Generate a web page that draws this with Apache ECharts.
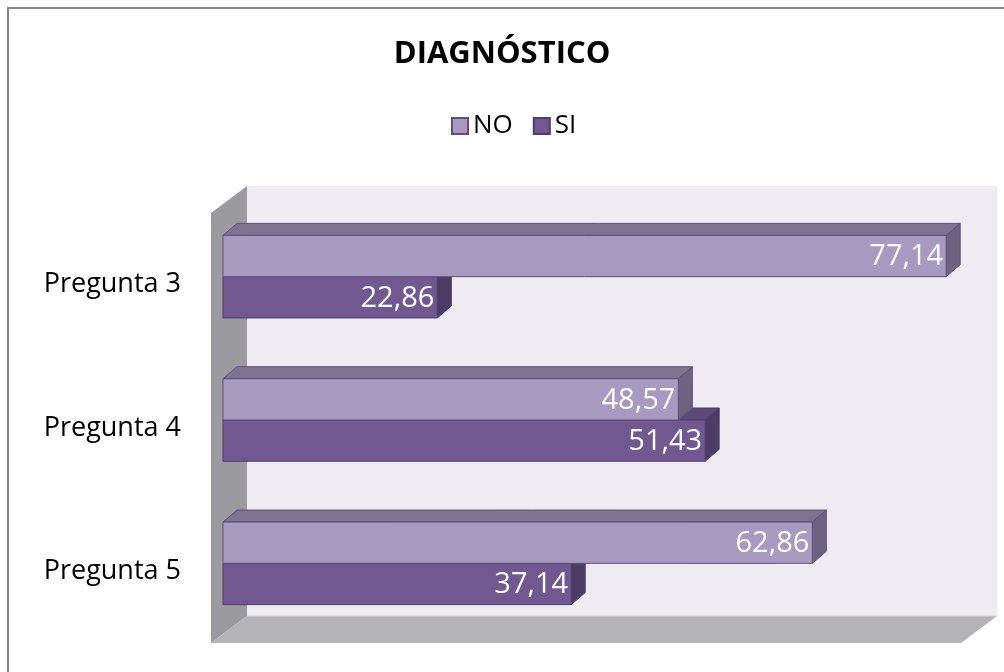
<!DOCTYPE html>
<html>
<head>
<meta charset="utf-8">
<script src="https://cdn.jsdelivr.net/npm/echarts@6/dist/echarts.min.js"></script>
<style>
  html, body { margin: 0; padding: 0; background: #fff; }
  #chart { width: 1004px; height: 672px; }
</style>
</head>
<body>
<div id="chart"></div>
<script>
// data
var categories = ['Pregunta 3', 'Pregunta 4', 'Pregunta 5'];
var noValues = [77.14, 48.57, 62.86];
var siValues = [22.86, 51.43, 37.14];

var FONT = '"Open Sans", "DejaVu Sans", sans-serif';
var WALL = [36, -27];   // depth of the whole box
var SHIFT = [12, -8];   // where the bars sit in depth
var DEPTH = [14, -12];  // depth of one bar

var colNo = { front: '#a899c0', top: '#7f7391', side: '#6d6381', line: '#5f4f7a' };
var colSi = { front: '#725891', top: '#5c497b', side: '#4c3c66', line: '#4f3d6c' };

function fmt(v) { return v.toFixed(2).replace('.', ','); }

function box(x0, x1, y0, y1, c) {
  var dx = DEPTH[0], dy = DEPTH[1];
  return [
    { type: 'polygon', shape: { points: [[x0, y0], [x0 + dx, y0 + dy], [x1 + dx, y0 + dy], [x1, y0]] },
      style: { fill: c.top, stroke: c.line, lineWidth: 1 } },
    { type: 'polygon', shape: { points: [[x1, y0], [x1 + dx, y0 + dy], [x1 + dx, y1 + dy], [x1, y1]] },
      style: { fill: c.side, stroke: c.line, lineWidth: 1 } },
    { type: 'rect', shape: { x: x0, y: y0, width: x1 - x0, height: y1 - y0 },
      style: { fill: c.front, stroke: c.line, lineWidth: 1 } }
  ];
}

function barRenderer(c, upper) {
  return function (params, api) {
    var cat = api.value(1);
    var val = api.value(0);
    var p0 = api.coord([0, cat]);
    var p1 = api.coord([val, cat]);
    var band = api.size([0, 1])[1];
    var h = band * 0.288;
    var cy = p0[1] + SHIFT[1];
    var x0 = p0[0] + SHIFT[0], x1 = p1[0] + SHIFT[0];
    var y0 = upper ? cy - h : cy;
    var y1 = upper ? cy : cy + h;
    var kids = box(x0, x1, y0, y1, c);
    kids.push({ type: 'text', style: {
      x: x1 - 3, y: (y0 + y1) / 2 + 1, text: fmt(val), fill: '#fff',
      font: '29px ' + FONT, align: 'right', verticalAlign: 'middle' } });
    return { type: 'group', children: kids };
  };
}

function wallRenderer(params, api) {
  var cs = params.coordSys;
  var l = cs.x, r = cs.x + cs.width, t = cs.y, b = cs.y + cs.height;
  var dx = WALL[0], dy = WALL[1];
  return { type: 'group', children: [
    { type: 'rect', shape: { x: l + dx, y: t + dy, width: r - l, height: b - t },
      style: { fill: '#eeebf3' } },
    { type: 'polygon', shape: { points: [[l, t], [l + dx, t + dy], [l + dx, b + dy], [l, b]] },
      style: { fill: '#9b9a9f' } },
    { type: 'polygon', shape: { points: [[l, b], [l + dx, b + dy], [r + dx, b + dy], [r, b]] },
      style: { fill: '#b4b3b8' } },
    { type: 'line', shape: { x1: l + dx, y1: b + dy, x2: r + dx, y2: b + dy },
      style: { stroke: '#d8d6dc', lineWidth: 1 } }
  ] };
}

var chart = echarts.init(document.getElementById('chart'), null, { renderer: 'canvas' });
chart.setOption({
  backgroundColor: '#fff',
  animation: false,
  graphic: [{
    type: 'rect', shape: { x: 8, y: 8, width: 1100, height: 800 },
    style: { fill: 'none', stroke: '#878787', lineWidth: 2 }, silent: true
  }],
  title: {
    text: 'DIAGNÓSTICO', left: 'center', top: 34,
    textStyle: { fontFamily: FONT, fontSize: 31, fontWeight: 'bold', color: '#000' }
  },
  legend: {
    data: ['NO', 'SI'], top: 108, left: 446, itemWidth: 16, itemHeight: 16, itemGap: 20,
    icon: 'rect',
    textStyle: { fontFamily: FONT, fontSize: 26, color: '#000' }
  },
  grid: { left: 211, right: 43, top: 213, bottom: 29 },
  xAxis: { type: 'value', min: 0, max: 80, show: false },
  yAxis: {
    type: 'category', data: categories, inverse: true,
    axisLine: { show: false }, axisTick: { show: false }, splitLine: { show: false },
    axisLabel: { fontFamily: FONT, fontSize: 27, color: '#000', margin: 30, padding: [14, 0, 0, 0] }
  },
  series: [
    { type: 'custom', silent: true, z: 1, data: [[0, 0]], encode: { x: 0, y: 1 }, renderItem: wallRenderer },
    { name: 'SI', type: 'custom', z: 2, encode: { x: 0, y: 1 },
      itemStyle: { color: colSi.front, borderColor: colSi.line, borderWidth: 1 },
      data: siValues.map(function (v, i) { return [v, i]; }), renderItem: barRenderer(colSi, false) },
    { name: 'NO', type: 'custom', z: 3, encode: { x: 0, y: 1 },
      itemStyle: { color: colNo.front, borderColor: colNo.line, borderWidth: 1 },
      data: noValues.map(function (v, i) { return [v, i]; }), renderItem: barRenderer(colNo, true) }
  ]
});
</script>
</body>
</html>
